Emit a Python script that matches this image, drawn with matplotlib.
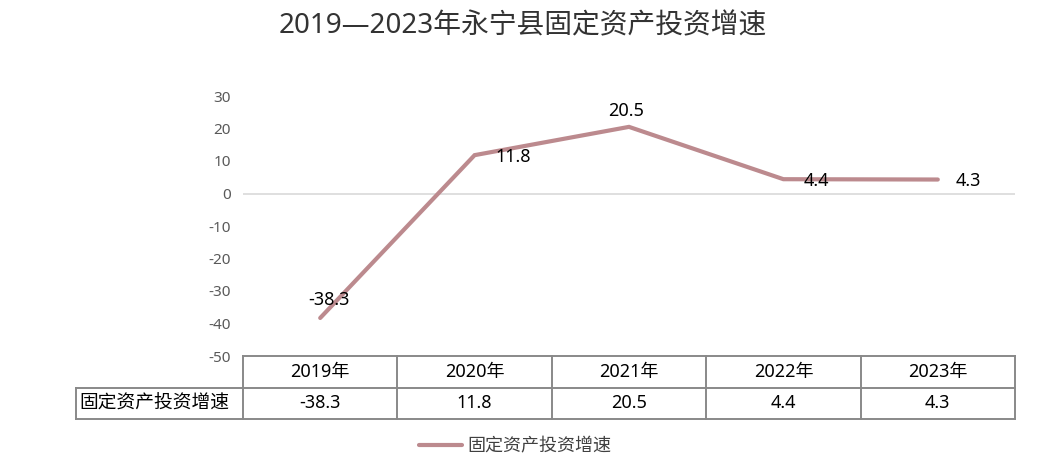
import matplotlib
matplotlib.use("Agg")
import matplotlib.pyplot as plt
from matplotlib.transforms import blended_transform_factory
from matplotlib.lines import Line2D

plt.rcParams['font.family'] = ['Noto Sans', 'Noto Sans CJK SC', 'DejaVu Sans']

title = "2019—2023年永宁县固定资产投资增速"
categories = ["2019年", "2020年", "2021年", "2022年", "2023年"]
series_name = "固定资产投资增速"
values = [-38.3, 11.8, 20.5, 4.4, 4.3]
value_labels = ["-38.3", "11.8", "20.5", "4.4", "4.3"]
yticks = [-50, -40, -30, -20, -10, 0, 10, 20, 30]

W, H = 1055, 462
fig = plt.figure(figsize=(W / 100, H / 100), dpi=100)

left_px, right_px, top_px, bot_px = 243, 1015, 96, 356
ax = fig.add_axes([left_px / W, 1 - bot_px / H, (right_px - left_px) / W, (bot_px - top_px) / H])

line_color = "#BC8A8E"
x = list(range(len(categories)))
ax.plot(x, values, color=line_color, lw=3.0, solid_capstyle='round', solid_joinstyle='miter', zorder=3)
ax.axhline(0, color="#D9D9D9", lw=1.2, zorder=1)

ax.set_xlim(-0.5, len(categories) - 0.5)
ax.set_ylim(-50, 30)
ax.set_yticks(yticks)
ax.set_yticklabels([str(t) for t in yticks])
ax.set_xticks([])
ax.tick_params(axis='y', length=0, pad=8.5, labelsize=11, labelcolor="#595959")
for s in ax.spines.values():
    s.set_visible(False)

# data labels (offsets in points)
offsets = [(6, 13, 'center'), (15, -1, 'left'), (-2, 11.5, 'center'), (14.5, -1, 'left'), (13, -1, 'left')]
for xi, v, lab, (dx, dy, ha) in zip(x, values, value_labels, offsets):
    ax.annotate(lab, (xi, v), xytext=(dx, dy), textcoords='offset points',
                ha=ha, va='center', fontsize=13, color="#000000", zorder=4)

# data table drawn in blended coords: x in data, y in axes fraction
ax_h = bot_px - top_px
ax_w = right_px - left_px
trans = blended_transform_factory(ax.transData, ax.transAxes)
y_top = 0.0
y_mid = -(388 - bot_px) / ax_h
y_bot = -(419 - bot_px) / ax_h
x_label_left = -0.5 - (left_px - 76) / (ax_w / len(categories))
x_left = -0.5
x_right = len(categories) - 0.5
edge = dict(color="#898989", lw=1.4, clip_on=False, transform=trans, solid_capstyle='projecting')
# horizontal lines
ax.plot([x_left, x_right], [y_top, y_top], **edge)
ax.plot([x_label_left, x_right], [y_mid, y_mid], **edge)
ax.plot([x_label_left, x_right], [y_bot, y_bot], **edge)
# vertical lines
ax.plot([x_label_left, x_label_left], [y_mid, y_bot], **edge)
for i in range(len(categories) + 1):
    ax.plot([i - 0.5, i - 0.5], [y_top, y_bot], **edge)
# texts
for xi, cat, lab in zip(x, categories, value_labels):
    ax.text(xi, (y_top + y_mid) / 2, cat, ha='center', va='center', fontsize=13,
            color="#000000", transform=trans, clip_on=False)
    ax.text(xi, (y_mid + y_bot) / 2, lab, ha='center', va='center', fontsize=13,
            color="#000000", transform=trans, clip_on=False)
ax.text(x_label_left + 0.02, (y_mid + y_bot) / 2, series_name, ha='left', va='center',
        fontsize=13.5, color="#000000", transform=trans, clip_on=False)

# title
fig.text(523 / W, 1 - 26 / H, title, ha='center', va='center', fontsize=20, color="#333333")

# legend
handle = Line2D([0], [0], color=line_color, lw=3.0, solid_capstyle='round')
fig.legend([handle], [series_name], loc='center', bbox_to_anchor=(515 / W, 1 - 446 / H),
           frameon=False, fontsize=13, handlelength=2.4, handletextpad=0.3,
           labelcolor="#404040")

fig.savefig("out.png", dpi=100)
